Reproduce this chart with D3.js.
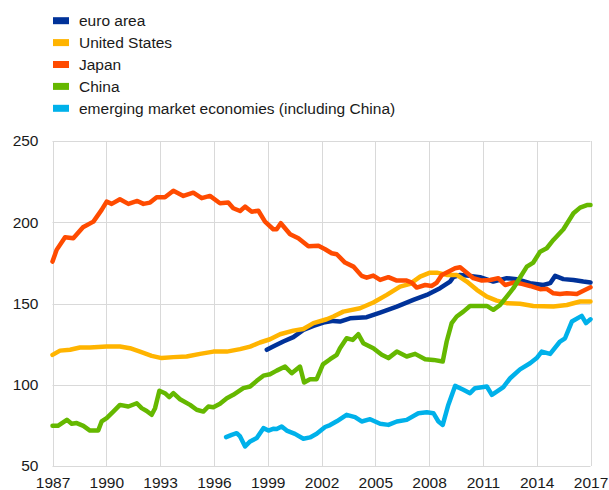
<!DOCTYPE html>
<html><head><meta charset="utf-8">
<script src="https://cdn.jsdelivr.net/npm/d3@7"></script>
<style>body{margin:0;background:#fff}svg{display:block;font-family:"Liberation Sans",Arial,sans-serif}</style>
</head><body><div id="chart"></div>
<script>
const seriesNames = ["euro area","United States","Japan","China","emerging market economies (including China)"];
const seriesColors = ["#003299","#ffb400","#ff4b00","#65b800","#00b1ea"];
const xTicks = [1987,1990,1993,1996,1999,2002,2005,2008,2011,2014,2017];
const yTicks = [50,100,150,200,250];

const euroArea = [[1998.95,121.5],[1999.3,123.5],[1999.87,126.6],[2000.43,129.3],[2000.99,133.8],[2001.55,136.2],[2002.1,138.3],[2002.66,139.3],[2003.03,138.9],[2003.59,140.9],[2004.52,141.6],[2005.27,144.4],[2006.2,148.1],[2007.12,152.2],[2007.87,155.3],[2008.61,159.4],[2009.17,163.5],[2009.35,166.2],[2009.73,167.6],[2010.28,167],[2010.84,166.2],[2011.58,163.5],[2012.33,165.6],[2012.89,165],[2013.63,162.5],[2014.37,161.4],[2014.75,162.5],[2015.03,167],[2015.49,165],[2016.05,164.5],[2016.6,163.5],[2017.0,162.9]];
const unitedStates = [[1987.0,118.4],[1987.42,121],[1987.98,121.5],[1988.53,122.9],[1989.09,122.9],[1990.02,123.5],[1990.76,123.5],[1991.32,122.5],[1991.88,120.4],[1992.53,117.8],[1993.09,116.4],[1993.74,117],[1994.48,117.4],[1995.23,119],[1995.97,120.4],[1996.72,120.4],[1997.46,121.9],[1998.02,123.5],[1998.57,126],[1999.13,128],[1999.69,131.1],[2000.43,133.3],[2000.99,134.3],[2001.55,137.9],[2002.29,140.3],[2002.66,142],[2003.22,145],[2004.15,147.1],[2004.89,150.6],[2005.64,155.3],[2006.38,160.4],[2006.94,162.1],[2007.5,166.5],[2008.05,169],[2008.43,169],[2008.98,167.6],[2009.54,167.6],[2010.1,163.5],[2010.66,158.4],[2011.22,154.2],[2011.77,151.8],[2012.33,150.2],[2013.07,149.8],[2013.81,148.5],[2014.93,148.1],[2015.68,149.1],[2016.42,151.2],[2017.0,151.2]];
const japan = [[1987.0,175.8],[1987.23,183],[1987.7,190.8],[1988.16,190.1],[1988.7,196.9],[1989.28,200.4],[1989.74,207.6],[1990.02,212.7],[1990.3,211.3],[1990.76,214.1],[1991.23,211.3],[1991.73,213.1],[1992.07,211.3],[1992.44,212.1],[1992.81,215.4],[1993.27,215.4],[1993.74,219.4],[1994.3,216.2],[1994.85,218.2],[1995.32,214.8],[1995.78,216.2],[1996.34,211.7],[1996.8,212.1],[1997.08,208.6],[1997.46,206.9],[1997.74,209.6],[1998.11,206.5],[1998.48,207.1],[1998.85,200.4],[1999.31,195.7],[1999.5,195.7],[1999.73,199.4],[2000.25,192.6],[2000.71,190.1],[2001.27,185.2],[2001.83,185.5],[2002.2,183.4],[2002.57,180.9],[2002.85,180.3],[2003.31,175.2],[2003.78,172.7],[2004.24,167],[2004.52,165.9],[2004.89,167.2],[2005.27,164.5],[2005.73,166.2],[2006.2,164.1],[2006.75,164.1],[2007.03,162.9],[2007.31,159.8],[2007.78,161.4],[2008.15,160.8],[2008.43,162.9],[2008.71,167.6],[2009.07,169.6],[2009.45,171.7],[2009.73,172.3],[2010.1,169],[2010.47,165.6],[2010.94,164.1],[2011.4,164.5],[2011.86,165.6],[2012.05,163.5],[2012.24,161.4],[2012.7,162.9],[2013.17,162.1],[2013.63,160.8],[2014.19,158.8],[2014.56,159],[2014.93,156.3],[2015.3,155.9],[2015.68,156.3],[2016.24,155.9],[2016.6,157.9],[2017.0,160]];
const china = [[1987.0,74.7],[1987.3,74.7],[1987.8,78.4],[1988.07,76],[1988.35,76.4],[1988.72,74.7],[1989.09,71.8],[1989.55,71.8],[1989.74,77.4],[1990.02,79.5],[1990.39,83.5],[1990.76,87.6],[1991.23,86.6],[1991.7,88.6],[1991.97,85.6],[1992.25,83.9],[1992.53,81.5],[1992.72,85.6],[1992.96,96.3],[1993.27,94.8],[1993.51,92.4],[1993.74,94.8],[1994.11,91.1],[1994.67,87.6],[1995.04,84.6],[1995.41,83.5],[1995.69,86.6],[1995.97,86.2],[1996.34,88.3],[1996.72,91.7],[1997.08,93.8],[1997.64,97.9],[1998.02,98.9],[1998.39,102.4],[1998.76,105.6],[1999.13,106.5],[1999.5,108.7],[1999.97,111.2],[2000.34,107.1],[2000.8,111.2],[2001.03,101.4],[2001.36,103.4],[2001.73,103.4],[2002.08,112.5],[2002.48,115.7],[2002.85,118.4],[2003.03,122.5],[2003.4,128.6],[2003.74,127.6],[2004.05,131.1],[2004.33,125.6],[2004.89,122.5],[2005.36,118.4],[2005.73,116.4],[2006.2,120.4],[2006.75,117.4],[2007.22,119],[2007.78,115.7],[2008.24,115.3],[2008.76,114.3],[2008.98,126.6],[2009.26,137.9],[2009.54,142],[2009.91,145],[2010.28,148.5],[2010.84,148.5],[2011.22,148.5],[2011.58,146.1],[2011.96,149.1],[2012.33,154.2],[2012.7,159.4],[2013.07,166],[2013.45,172.7],[2013.81,175.2],[2014.19,181.9],[2014.56,184],[2014.93,189.1],[2015.49,195.7],[2016.05,205.5],[2016.42,209],[2016.8,210.6],[2017.0,210.6]];
const emergingMarkets = [[1996.68,67.8],[1996.99,69.2],[1997.27,70.2],[1997.46,68.2],[1997.74,62],[1998.02,65.1],[1998.39,67.2],[1998.76,73.3],[1999.04,71.8],[1999.3,72.9],[1999.5,72.7],[1999.78,74.3],[2000.06,71.8],[2000.52,69.8],[2000.99,66.8],[2001.36,67.6],[2001.73,69.8],[2002.2,74],[2002.48,75.2],[2002.85,77.5],[2003.4,81.5],[2003.87,80.1],[2004.24,77.4],[2004.71,78.8],[2005.27,76],[2005.73,75.3],[2006.2,77.4],[2006.75,78.4],[2007.4,82.5],[2007.87,83.1],[2008.24,82.5],[2008.52,77.4],[2008.76,75.3],[2009.07,87.6],[2009.45,99.3],[2009.91,96.9],[2010.28,94.8],[2010.56,97.9],[2011.22,98.9],[2011.5,93.8],[2011.77,95.8],[2012.14,98.6],[2012.52,104],[2013.07,109.5],[2013.63,113.2],[2014.0,116.4],[2014.28,120.4],[2014.75,119],[2015.3,126.6],[2015.58,128.6],[2015.96,138.9],[2016.51,142.4],[2016.75,137.9],[2017.0,140.3]];

const seriesData = [euroArea, unitedStates, japan, china, emergingMarkets];

const W = 609, H = 490;
const margin = {left: 52.5, right: 18.5, top: 141, bottom: 24};
const FONT = "Liberation Sans, Arial, sans-serif";
const svg = d3.select("#chart").append("svg").attr("width", W).attr("height", H);

const x = d3.scaleLinear().domain([1987, 2017]).range([margin.left, W - margin.right]);
const y = d3.scaleLinear().domain([50, 250]).range([H - margin.bottom, margin.top]);

// gridlines
const grid = svg.append("g").attr("stroke", "#d9d9d9").attr("stroke-width", 1).attr("fill", "none");
yTicks.forEach(t => grid.append("line").attr("x1", x(1987)).attr("x2", x(2017)).attr("y1", Math.round(y(t)) + 0.5).attr("y2", Math.round(y(t)) + 0.5));
xTicks.forEach(t => grid.append("line").attr("x1", Math.round(x(t)) + 0.5).attr("x2", Math.round(x(t)) + 0.5).attr("y1", y(50)).attr("y2", y(250)));

// axes labels
const yAxis = d3.axisLeft(y).tickValues(yTicks).tickSize(0).tickPadding(14);
const gy = svg.append("g").attr("transform", `translate(${x(1987)},0)`).call(yAxis);
gy.select(".domain").remove();
gy.selectAll("text").attr("font-size", 15.5).attr("fill", "#1a1a1a").attr("font-family", FONT);

const xAxis = d3.axisBottom(x).tickValues(xTicks).tickFormat(d3.format("d")).tickSize(0).tickPadding(10.5);
const gx = svg.append("g").attr("transform", `translate(0,${y(50)})`).call(xAxis);
gx.select(".domain").remove();
gx.selectAll("text").attr("font-size", 15.5).attr("fill", "#1a1a1a").attr("font-family", FONT);

// lines
const line = d3.line().x(d => x(d[0])).y(d => y(d[1]));
seriesData.forEach((data, i) => {
  svg.append("path").datum(data).attr("d", line)
    .attr("fill", "none").attr("stroke", seriesColors[i]).attr("stroke-width", 4.5)
    .attr("stroke-linejoin", "round").attr("stroke-linecap", "round");
});

// legend
const legend = svg.append("g");
seriesNames.forEach((name, i) => {
  const cy = 20.7 + i * 21.9;
  legend.append("rect").attr("x", 53).attr("y", cy - 3.5).attr("width", 16).attr("height", 7).attr("fill", seriesColors[i]);
  legend.append("text").attr("x", 79).attr("y", cy).attr("dy", "0.35em").attr("font-size", 15.5).attr("fill", "#1a1a1a").attr("font-family", FONT).text(name);
});
</script></body></html>
